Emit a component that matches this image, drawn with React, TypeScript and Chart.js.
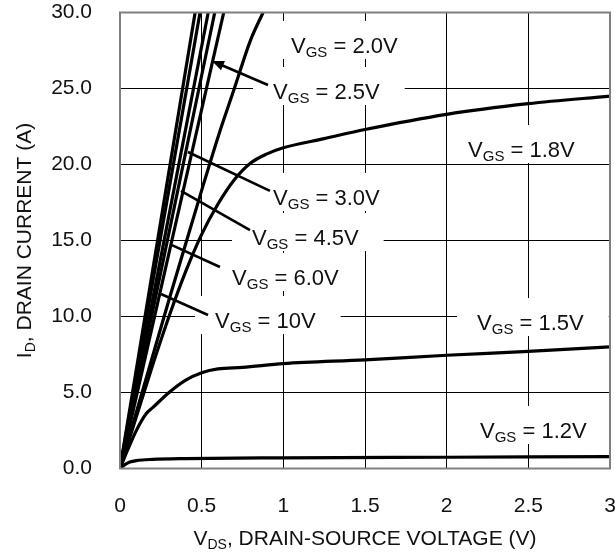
import React, { useEffect, useRef } from "react";
import { Chart, registerables } from "chart.js";

Chart.register(...registerables);

// ---- data (V_DS in volts, I_D in amperes) ----
const vds10 = [0, 0.46];
const id10 = [0, 30];
const vds60 = [0, 0.49];
const id60 = [0, 30];
const vds45 = [0, 0.54];
const id45 = [0, 30];
const vds30 = [0, 0.58];
const id30 = [0, 30];
const vds25 = [0, 0.635];
const id25 = [0, 30];
const vds20 = [0, 0.1, 0.2, 0.3, 0.4, 0.5, 0.6, 0.7, 0.8, 0.876];
const id20 = [0, 3.7, 7.4, 11.1, 14.7, 18.3, 21.8, 25.0, 28.2, 30];
const vds18 = [0, 0.1, 0.2, 0.3, 0.4, 0.5, 0.6, 0.7, 0.8, 0.9, 1.0, 1.25, 1.5, 2.0, 2.5, 3.0];
const id18 = [0, 3.4, 6.8, 10.0, 12.9, 15.4, 17.4, 19.0, 20.1, 20.7, 21.1, 21.7, 22.3, 23.3, 24.0, 24.5];
const vds15 = [0, 0.05, 0.1, 0.16, 0.2, 0.3, 0.4, 0.5, 0.6, 0.75, 1.0, 1.5, 2.0, 2.5, 3.0];
const id15 = [0, 1.3, 2.5, 3.6, 4.0, 5.0, 5.8, 6.3, 6.55, 6.65, 6.9, 7.15, 7.45, 7.7, 8.0];
const vds12 = [0, 0.03, 0.06, 0.1, 0.2, 0.4, 1.0, 2.0, 3.0];
const id12 = [0, 0.25, 0.42, 0.52, 0.6, 0.65, 0.7, 0.74, 0.78];

const xTicks = [0, 0.5, 1, 1.5, 2, 2.5, 3];
const xTickLabels = ["0", "0.5", "1", "1.5", "2", "2.5", "3"];
const yTicks = [0, 5, 10, 15, 20, 25, 30];
const yTickLabels = ["0.0", "5.0", "10.0", "15.0", "20.0", "25.0", "30.0"];

const curveNames = ["10V", "6.0V", "4.5V", "3.0V", "2.5V", "2.0V", "1.8V", "1.5V", "1.2V"];
const curveX = [vds10, vds60, vds45, vds30, vds25, vds20, vds18, vds15, vds12];
const curveY = [id10, id60, id45, id30, id25, id20, id18, id15, id12];

// label anchors in data units: [left x, baseline y]
const labelText = ["2.0V", "2.5V", "1.8V", "3.0V", "4.5V", "6.0V", "10V", "1.5V", "1.2V"];
const labelX = [1.047, 0.937, 2.131, 0.937, 0.808, 0.686, 0.582, 2.186, 2.204];
const labelY = [27.34, 24.31, 20.49, 17.34, 14.7, 12.07, 9.24, 9.11, 2.01];
// leader lines in data units (from label to curve)
const leaderLabel = ["2.5V", "3.0V", "4.5V", "6.0V", "10V"];
const leaderX0 = [0.906, 0.918, 0.796, 0.612, 0.539];
const leaderY0 = [25.23, 18.26, 15.69, 13.26, 10.1];
const leaderX1 = [0.563, 0.416, 0.373, 0.318, 0.251];
const leaderY1 = [26.81, 20.82, 18.26, 14.7, 11.48];
const leaderArrow = [true, false, false, false, false];

const FONT = '"Liberation Sans", Arial, Helvetica, sans-serif';
const MAIN_SIZE = 22;
const SUB_SIZE = 15;
const TEXT_COLOR = "#111";

type Part = { t: string; sub?: boolean };

function measureRich(ctx: CanvasRenderingContext2D, parts: Part[], size: number, subSize: number) {
  let w = 0;
  for (const p of parts) {
    ctx.font = `${p.sub ? subSize : size}px ${FONT}`;
    w += ctx.measureText(p.t).width;
  }
  return w;
}

function drawRich(
  ctx: CanvasRenderingContext2D,
  parts: Part[],
  x: number,
  y: number,
  size: number,
  subSize: number,
  subDrop: number
) {
  let cx = x;
  ctx.textBaseline = "alphabetic";
  ctx.textAlign = "left";
  ctx.fillStyle = TEXT_COLOR;
  for (const p of parts) {
    ctx.font = `${p.sub ? subSize : size}px ${FONT}`;
    ctx.fillText(p.t, cx, p.sub ? y + subDrop : y);
    cx += ctx.measureText(p.t).width;
  }
}

const labelsPlugin = {
  id: "vgsLabels",
  beforeDatasetsDraw(chart: any) {
    const { ctx, scales } = chart;
    const xs = scales.x;
    const ys = scales.y;
    ctx.save();
    ctx.fillStyle = "#fff";
    for (let i = 0; i < labelText.length; i++) {
      const parts: Part[] = [{ t: "V" }, { t: "GS", sub: true }, { t: " = " + labelText[i] }];
      const w = measureRich(ctx, parts, MAIN_SIZE, SUB_SIZE);
      const px = xs.getPixelForValue(labelX[i]);
      const py = ys.getPixelForValue(labelY[i]);
      ctx.fillRect(px - 20, py - 32, w + 45, 38);
    }
    ctx.restore();
  },
  afterDatasetsDraw(chart: any) {
    const { ctx, scales } = chart;
    const xs = scales.x;
    const ys = scales.y;
    ctx.save();
    for (let i = 0; i < labelText.length; i++) {
      const parts: Part[] = [{ t: "V" }, { t: "GS", sub: true }, { t: " = " + labelText[i] }];
      drawRich(ctx, parts, xs.getPixelForValue(labelX[i]), ys.getPixelForValue(labelY[i]), MAIN_SIZE, SUB_SIZE, 4);
    }
    ctx.strokeStyle = "#000";
    ctx.fillStyle = "#000";
    ctx.lineWidth = 2.6;
    ctx.lineCap = "butt";
    for (let i = 0; i < leaderLabel.length; i++) {
      const x0 = xs.getPixelForValue(leaderX0[i]);
      const y0 = ys.getPixelForValue(leaderY0[i]);
      const x1 = xs.getPixelForValue(leaderX1[i]);
      const y1 = ys.getPixelForValue(leaderY1[i]);
      const ang = Math.atan2(y1 - y0, x1 - x0);
      const headLen = leaderArrow[i] ? 12 : 0;
      ctx.beginPath();
      ctx.moveTo(x0, y0);
      ctx.lineTo(x1 - Math.cos(ang) * headLen * 0.8, y1 - Math.sin(ang) * headLen * 0.8);
      ctx.stroke();
      if (leaderArrow[i]) {
        const hw = 5;
        const bx = x1 - Math.cos(ang) * headLen;
        const by = y1 - Math.sin(ang) * headLen;
        ctx.beginPath();
        ctx.moveTo(x1, y1);
        ctx.lineTo(bx + Math.sin(ang) * hw, by - Math.cos(ang) * hw);
        ctx.lineTo(bx - Math.sin(ang) * hw, by + Math.cos(ang) * hw);
        ctx.closePath();
        ctx.fill();
      }
    }
    ctx.restore();
  },
  afterDraw(chart: any) {
    const { ctx, chartArea } = chart;
    const { left, top, right, bottom } = chartArea;
    ctx.save();
    // frame
    ctx.strokeStyle = "#808080";
    ctx.lineWidth = 2;
    ctx.strokeRect(left, top, right - left, bottom - top);
    // axis titles with subscripts
    const xParts: Part[] = [{ t: "V" }, { t: "DS", sub: true }, { t: ", DRAIN-SOURCE VOLTAGE (V)" }];
    const xw = measureRich(ctx, xParts, 21, 14);
    drawRich(ctx, xParts, (left + right) / 2 - xw / 2, 545, 21, 14, 4);
    const yParts: Part[] = [{ t: "I" }, { t: "D", sub: true }, { t: ", DRAIN CURRENT (A)" }];
    const yw = measureRich(ctx, yParts, 21, 14);
    ctx.translate(31, (top + bottom) / 2);
    ctx.rotate(-Math.PI / 2);
    drawRich(ctx, yParts, -yw / 2, 0, 21, 14, 4);
    ctx.restore();
  },
};

export default function App() {
  const ref = useRef<HTMLCanvasElement | null>(null);

  useEffect(() => {
    if (!ref.current) return;
    const datasets = curveNames.map((name, i) => ({
      label: "VGS = " + name,
      data: curveX[i].map((v, j) => ({ x: v, y: curveY[i][j] })),
      borderColor: "#000",
      borderWidth: 3.2,
      pointRadius: 0,
      fill: false,
      cubicInterpolationMode: curveX[i].length > 2 ? ("monotone" as const) : ("default" as const),
    }));

    const chart = new Chart(ref.current, {
      type: "line",
      data: { datasets },
      options: {
        animation: false,
        responsive: false,
        maintainAspectRatio: false,
        layout: { padding: { left: 0, right: 5, top: 12.5, bottom: 0 } },
        plugins: { legend: { display: false }, tooltip: { enabled: false } },
        scales: {
          x: {
            type: "linear",
            min: 0,
            max: 3,
            afterBuildTicks: (s: any) => {
              s.ticks = xTicks.map((v) => ({ value: v }));
            },
            afterFit: (s: any) => {
              s.height = 83.5;
              s.paddingLeft = 0;
              s.paddingRight = 0;
            },
            ticks: {
              autoSkip: false,
              maxRotation: 0,
              padding: 25,
              color: TEXT_COLOR,
              font: { family: FONT, size: 21 },
              callback: (_v: any, i: number) => xTickLabels[i],
            },
            grid: { color: "#000", lineWidth: 1, drawTicks: false },
            border: { display: false },
          },
          y: {
            type: "linear",
            min: 0,
            max: 30,
            afterBuildTicks: (s: any) => {
              s.ticks = yTicks.map((v) => ({ value: v }));
            },
            afterFit: (s: any) => {
              s.width = 120;
              s.paddingTop = 0;
              s.paddingBottom = 0;
            },
            ticks: {
              autoSkip: false,
              padding: 28,
              color: TEXT_COLOR,
              font: { family: FONT, size: 21 },
              callback: (_v: any, i: number) => yTickLabels[i],
            },
            grid: { color: "#000", lineWidth: 1, drawTicks: false },
            border: { display: false },
          },
        },
      },
      plugins: [labelsPlugin],
    });
    return () => chart.destroy();
  }, []);

  return (
    <div style={{ position: "absolute", left: 0, top: 0, width: 615, height: 552, background: "#fff" }}>
      <canvas ref={ref} width={615} height={552} style={{ display: "block", width: 615, height: 552 }} />
    </div>
  );
}
